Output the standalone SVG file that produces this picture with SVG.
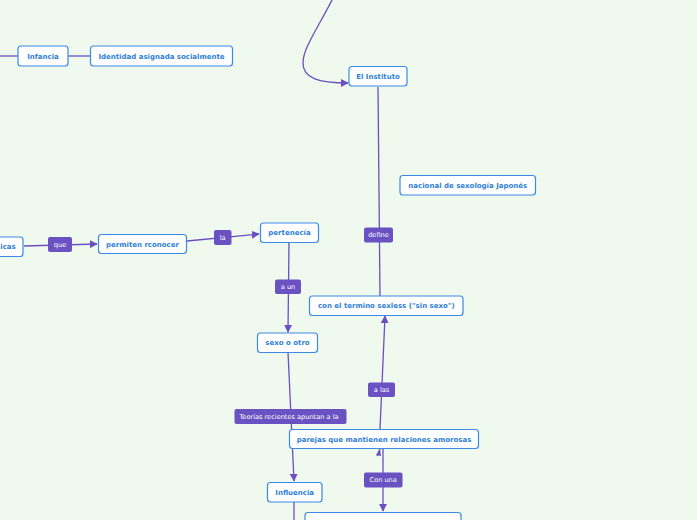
<svg xmlns="http://www.w3.org/2000/svg" width="697" height="520" viewBox="0 0 697 520">
<defs>
<marker id="ah" viewBox="0 0 10 10" refX="9" refY="5" markerWidth="8" markerHeight="8" markerUnits="userSpaceOnUse" orient="auto">
<path d="M0,0 L10,5 L0,10 z" fill="#6a50c2"/>
</marker>
<style>
.n rect{fill:#fff;stroke:#3a8ae6;stroke-width:1.2}
.n text{font-family:"DejaVu Sans",Verdana,sans-serif;font-size:7px;font-weight:bold;fill:#2f7fd8;text-anchor:middle;dominant-baseline:central}
.l rect{fill:#6b52c3}
.l text{font-family:"DejaVu Sans",Verdana,sans-serif;font-size:6.6px;fill:#fff;text-anchor:middle;dominant-baseline:central}
.c path{fill:none;stroke:#6a50c2;stroke-width:1.3}
</style>
</defs>
<rect width="697" height="520" fill="#f0f9ed"/>
<g class="c" id="connectors">
<path d="M0,56 L18,56"/>
<path d="M68,56 L90,56"/>
<path d="M333,-2 C318,28 303,48 303,63 C303,78 318,83 348,83" marker-end="url(#ah)"/>
<path d="M24,246 L97,244" marker-end="url(#ah)"/>
<path d="M187,241 L259,234" marker-end="url(#ah)"/>
<path d="M289,243 L288,332" marker-end="url(#ah)"/>
<path d="M288,352 L294,481" marker-end="url(#ah)"/>
<path d="M294,502 L294,522"/>
<path d="M378,87 L380,296"/>
<path d="M380,429 L385,316" marker-end="url(#ah)"/>
<path d="M383,449 L383,511" marker-end="url(#ah)"/>
<path d="M377,456 L380,449" />
</g>
<path d="M376,455 L380,449 L381,456 z" fill="#6a50c2"/>
<g class="n" id="n-infancia"><rect x="18" y="46" width="50" height="20" rx="3"/><text x="43" y="56.5">Infancia</text></g>
<g class="n" id="n-identidad"><rect x="90.5" y="46" width="142" height="20" rx="3"/><text x="161.5" y="56.5">Identidad asignada socialmente</text></g>
<g class="n" id="n-instituto"><rect x="349" y="66.5" width="58" height="19.5" rx="3"/><text x="378" y="76.5">El Instituto</text></g>
<g class="n" id="n-nacional"><rect x="400" y="175.5" width="135.5" height="19.5" rx="3"/><text x="467.8" y="185.5">nacional de sexología Japonés</text></g>
<g class="n" id="n-icas"><rect x="-30" y="237" width="53" height="19.5" rx="3"/><text x="8" y="247">icas</text></g>
<g class="n" id="n-permiten"><rect x="98.5" y="234.5" width="88" height="19" rx="3"/><text x="142.5" y="244.5">permiten rconocer</text></g>
<g class="n" id="n-pertenecia"><rect x="260.5" y="223" width="58" height="19.5" rx="3"/><text x="289.5" y="232.5">pertenecía</text></g>
<g class="n" id="n-sexless"><rect x="309.5" y="296" width="153.5" height="19.5" rx="3"/><text x="386.3" y="306">con el termino sexless ("sin sexo")</text></g>
<g class="n" id="n-sexo"><rect x="257.5" y="333" width="60" height="19.5" rx="3"/><text x="287.5" y="343">sexo o otro</text></g>
<g class="n" id="n-parejas"><rect x="289.5" y="429.5" width="189" height="19" rx="3"/><text x="384" y="439.5">parejas que mantienen relaciones amorosas</text></g>
<g class="n" id="n-influencia"><rect x="267.5" y="482.5" width="54.5" height="19.5" rx="3"/><text x="294.7" y="492.5">Influencia</text></g>
<g class="n" id="n-bottom"><rect x="305" y="512.5" width="156" height="19.5" rx="3"/></g>
<g class="l" id="l-que"><rect x="48" y="237" width="24" height="15" rx="2"/><text x="60" y="244.5">que</text></g>
<g class="l" id="l-la"><rect x="214" y="230" width="17.5" height="15" rx="2"/><text x="222.7" y="237.5">la</text></g>
<g class="l" id="l-define"><rect x="364" y="227.5" width="29" height="15" rx="2"/><text x="378.5" y="235">define</text></g>
<g class="l" id="l-aun"><rect x="275" y="279.5" width="26" height="14.5" rx="2"/><text x="288" y="287">a un</text></g>
<g class="l" id="l-alas"><rect x="368" y="382.5" width="27" height="14.5" rx="2"/><text x="381.5" y="390">a las</text></g>
<g class="l" id="l-teorias"><rect x="234.5" y="409" width="112" height="15" rx="2"/><text x="289" y="416.5">Teorías recientes apuntan a la</text></g>
<g class="l" id="l-conuna"><rect x="364" y="472.5" width="38.5" height="15" rx="2"/><text x="383.2" y="480">Con una</text></g>
</svg>
